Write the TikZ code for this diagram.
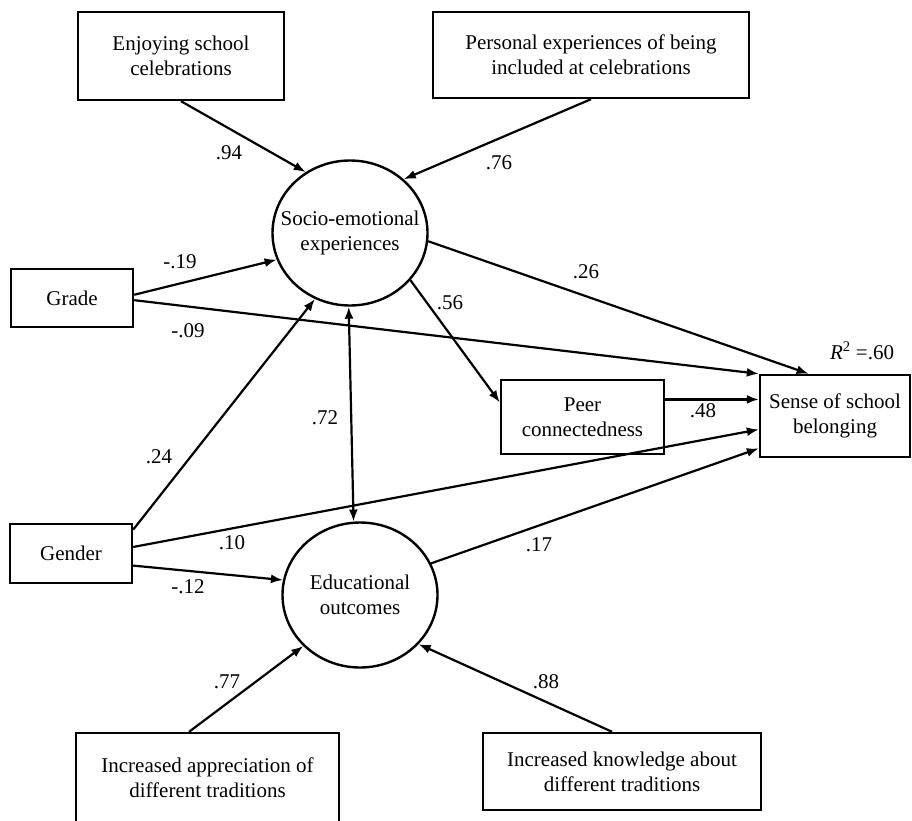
\documentclass[tikz,border=0pt]{standalone}
\usepackage{fontspec}
\setmainfont{Liberation Serif}
\usetikzlibrary{arrows.meta,shapes.geometric}

\begin{document}
\begin{tikzpicture}[
  x=1pt, y=-1pt,
  >={Latex[length=12pt,width=9pt]},
  every node/.style = {font=\fontsize{21}{25}\selectfont},
  box/.style    = {draw, line width=2.4pt, align=center, inner sep=0pt},
  latent/.style = {
    draw, ellipse, line width=2.4pt,
    align=center, inner xsep=-15pt, inner ysep=0pt,
    minimum width=155pt, minimum height=145pt
  },
  path/.style   = {->, line width=2.2pt},
  coef/.style   = {inner sep=0pt}
]

% ---- canvas ----
\useasboundingbox (0,0) rectangle (912,820);

% ---- observed indicators ----
\node[box, minimum width=206pt, minimum height=88pt] (enjoy) at (181,56)
  {Enjoying school\\celebrations};
\node[box, minimum width=316pt, minimum height=86pt] (personal) at (591,55)
  {Personal experiences of being\\included at celebrations};
\node[box, minimum width=263pt, minimum height=89pt] (apprec) at (207.5,777.5)
  {Increased appreciation of\\different traditions};
\node[box, minimum width=278pt, minimum height=77pt] (knowl) at (622,771.5)
  {Increased knowledge about\\different traditions};

% ---- covariates and outcomes ----
\node[box, minimum width=122pt, minimum height=58pt] (grade) at (72,298) {Grade};
\node[box, minimum width=122pt, minimum height=59pt] (gender) at (71,553.5) {Gender};
\node[box, minimum width=163pt, minimum height=74pt] (peer) at (582.5,417)
  {Peer\\connectedness};
\node[box, minimum width=150pt, minimum height=82pt] (sense) at (835,416)
  {Sense of school\\belonging};

% ---- latent factors ----
\node[latent] (socio) at (350,233) {Socio-emotional\\experiences};
\node[latent] (educ)  at (360,595) {Educational\\outcomes};

% ---- paths ----
\draw[path] (enjoy.south) -- (socio.126);
\draw[path] (personal.south) -- (socio.45);
\draw[path] (grade.3) -- (socio.200);
\draw[path] (grade.-2) -- (sense.north west);
\draw[path] (socio.-6) -- (sense.122);
\draw[path] (socio.-38) -- (peer.170);
\draw[path] (peer.12) -- (peer.12 -| sense.west);
\draw[path, <->] (socio.-91) -- (educ.95);
\draw[path] (gender.21) -- (socio.242);
\draw[path] (gender.6) -- (sense.190);
\draw[path] (gender.-11) -- (educ.169);
\draw[path] (educ.24) -- (sense.203);
\draw[path] (apprec.112) -- (educ.222);
\draw[path] (knowl.104) -- (educ.-40);

% ---- coefficients ----
\node[coef] (c94) at (229,153) {.94};
\node[coef] (c76) at (499,163) {.76};
\node[coef] (c19) at (180,262) {-.19};
\node[coef] (c26) at (586,272) {.26};
\node[coef] (c56) at (450,303) {.56};
\node[coef] (c09) at (188,331) {-.09};
\node[coef] (rsq) at (862,351) {\textit{R}\textsuperscript{2} =.60};
\node[coef] (c72) at (325,418) {.72};
\node[coef] (c48) at (703,411) {.48};
\node[coef] (c24) at (159,457) {.24};
\node[coef] (c10) at (232,543) {.10};
\node[coef] (c17) at (539,545) {.17};
\node[coef] (c12) at (188,587) {-.12};
\node[coef] (c77) at (227,682) {.77};
\node[coef] (c88) at (546,682) {.88};

\end{tikzpicture}
\end{document}
